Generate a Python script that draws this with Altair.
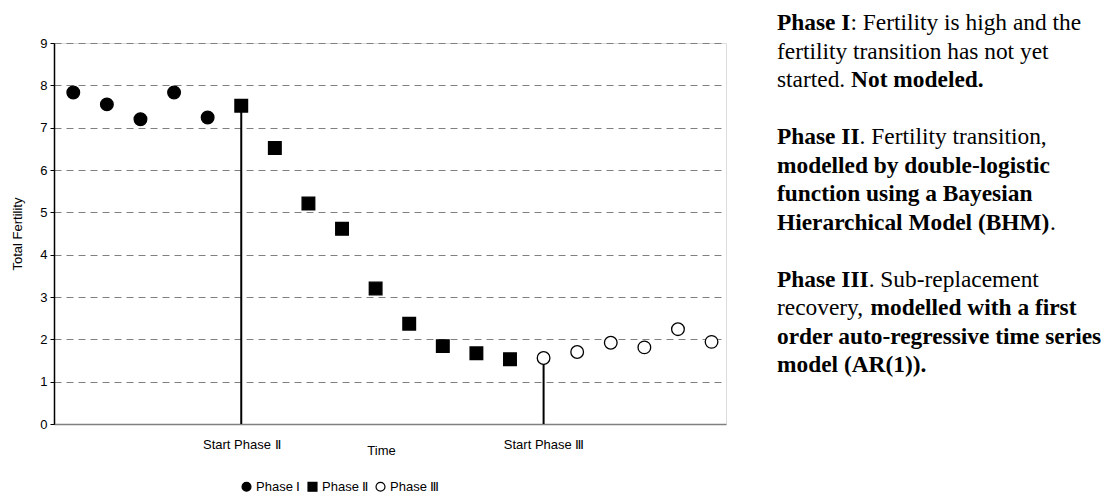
import altair as alt
import pandas as pd

# ---------------- data ----------------
time_index = [0, 1, 2, 3, 4, 5, 6, 7, 8, 9, 10, 11, 12, 13, 14, 15, 16, 17, 18, 19]
tfr = [7.83, 7.55, 7.20, 7.83, 7.24,
       7.52, 6.52, 5.21, 4.61, 3.20, 2.37, 1.84, 1.67, 1.53,
       1.56, 1.70, 1.92, 1.81, 2.24, 1.94]
phase = ["Phase Ⅰ", "Phase Ⅰ", "Phase Ⅰ", "Phase Ⅰ", "Phase Ⅰ",
         "Phase Ⅱ", "Phase Ⅱ", "Phase Ⅱ", "Phase Ⅱ", "Phase Ⅱ", "Phase Ⅱ", "Phase Ⅱ", "Phase Ⅱ", "Phase Ⅱ",
         "Phase Ⅲ", "Phase Ⅲ", "Phase Ⅲ", "Phase Ⅲ", "Phase Ⅲ", "Phase Ⅲ"]
phase_names = ["Phase Ⅰ", "Phase Ⅱ", "Phase Ⅲ"]
phase_start_index = [5, 14]
phase_start_tfr = [7.52, 1.56]
phase_start_labels = ["Start Phase Ⅱ", "Start Phase Ⅲ"]
y_ticks = [0, 1, 2, 3, 4, 5, 6, 7, 8, 9]
y_title = "Total Fertility"
x_title = "Time"

note_lines = [
    [("Phase I", True), (": Fertility is high and the", False)],
    [("fertility transition has not yet", False)],
    [("started. ", False), ("Not modeled.", True)],
    [],
    [("Phase II", True), (". Fertility transition,", False)],
    [("modelled by double-logistic", True)],
    [("function using a Bayesian", True)],
    [("Hierarchical Model (BHM)", True), (".", False)],
    [],
    [("Phase III", True), (". Sub-replacement", False)],
    [("recovery, ", False), ("modelled with a first", True)],
    [("order auto-regressive time series", True)],
    [("model (AR(1)).", True)],
]

# ---------------- layout ----------------
W, H = 672, 381
PAD_L, PAD_T = 46, 35
PAD_R = 1096 - PAD_L - W
PAD_B = 485 - PAD_T - H
NOTE_FS = 23.4
NOTE_X = 777 - 54
NOTE_Y0 = 23 - 43
NOTE_STEP = 28.5

# Times / Liberation Serif advance widths (1/1000 em) for segment offsets
TIMES_REG = {"s": 389, "t": 278, "a": 444, "r": 333, "e": 444, "d": 500, ".": 250,
             " ": 250, "c": 444, "o": 500, "v": 500, "y": 500, ",": 250}
TIMES_BOLD = {"P": 611, "h": 556, "a": 500, "s": 389, "e": 444, " ": 250, "I": 389,
              "H": 778, "i": 278, "r": 444, "c": 444, "l": 278, "M": 944, "o": 500,
              "d": 556, "(": 333, "B": 667, ")": 333}


def text_width(s, bold):
    tab = TIMES_BOLD if bold else TIMES_REG
    return sum(tab.get(ch, 500) for ch in s) * NOTE_FS / 1000.0


x_scale = alt.Scale(domain=[-0.574, 19.43], nice=False, zero=False)
y_scale = alt.Scale(domain=[0, 9], nice=False, zero=True)

df = pd.DataFrame({"t": time_index, "tfr": tfr, "phase": phase})
starts = pd.DataFrame({"t": phase_start_index, "tfr": phase_start_tfr,
                       "base": [0] * len(phase_start_index)})

label_expr = " : ".join(
    f"datum.value == {i} ? '{lab}'" for i, lab in zip(phase_start_index, phase_start_labels)
) + " : ''"

legend = alt.Legend(
    orient="none", legendX=186, legendY=437, direction="horizontal", title=None,
    labelFont="Liberation Sans", labelFontSize=13, labelColor="black",
    symbolSize=80, symbolStrokeWidth=1.2,
    columnPadding=4, labelOffset=3, padding=0,
)

rules = alt.Chart(starts).mark_rule(color="black", strokeWidth=2).encode(
    x=alt.X("t:Q", scale=x_scale),
    y=alt.Y("base:Q", scale=y_scale),
    y2="tfr:Q",
)

points = alt.Chart(df).mark_point(
    filled=True, strokeWidth=1.3, size=160, opacity=1
).encode(
    x=alt.X("t:Q", scale=x_scale, axis=alt.Axis(
        values=phase_start_index, labelExpr=label_expr, ticks=False, grid=False,
        title=x_title, titleX=327, titleY=26, titleBaseline="middle",
        titleFontWeight="normal", titleFontSize=13, titleFont="Liberation Sans",
        labelPadding=14, labelFontSize=13, labelFont="Liberation Sans",
        labelColor="black", titleColor="black",
        domainColor="#808080", domainWidth=1.5,
    )),
    y=alt.Y("tfr:Q", scale=y_scale, axis=alt.Axis(
        values=y_ticks, title=y_title, titleX=-37, titleY=H / 2,
        titleBaseline="middle", titleFontWeight="normal", titleFontSize=13,
        titleFont="Liberation Sans", titleColor="black",
        grid=True, gridDash=[7, 5], gridColor="#808080", gridWidth=1,
        tickSize=4, tickColor="black", domainColor="black", domainWidth=1.5,
        labelPadding=3, labelFontSize=13, labelFont="Liberation Sans", labelColor="black",
    )),
    shape=alt.Shape("phase:N", scale=alt.Scale(domain=phase_names,
                                               range=["circle", "square", "circle"]),
                    legend=legend),
    fill=alt.Fill("phase:N", scale=alt.Scale(domain=phase_names,
                                             range=["black", "black", "white"]),
                  legend=legend),
    stroke=alt.Stroke("phase:N", scale=alt.Scale(domain=phase_names,
                                                 range=["black", "black", "black"]),
                      legend=legend),
)

texts = []
for k, segs in enumerate(note_lines):
    x = NOTE_X
    y = NOTE_Y0 + k * NOTE_STEP
    for s, bold in segs:
        texts.append(
            alt.Chart(pd.DataFrame({"s": [s]})).mark_text(
                align="left", baseline="middle", font="Liberation Serif",
                fontSize=NOTE_FS, fontWeight="bold" if bold else "normal", color="black",
            ).encode(text="s:N", x=alt.value(x), y=alt.value(y))
        )
        x += text_width(s, bold)

chart = alt.layer(rules, points, *texts).properties(
    width=W, height=H,
    autosize=alt.AutoSizeParams(type="none"),
    padding={"left": PAD_L, "top": PAD_T, "right": PAD_R, "bottom": PAD_B},
).configure_view(stroke="#808080", strokeWidth=1).configure(background="white")

chart.save("out.html", embed_options={"renderer": "svg", "actions": False})
